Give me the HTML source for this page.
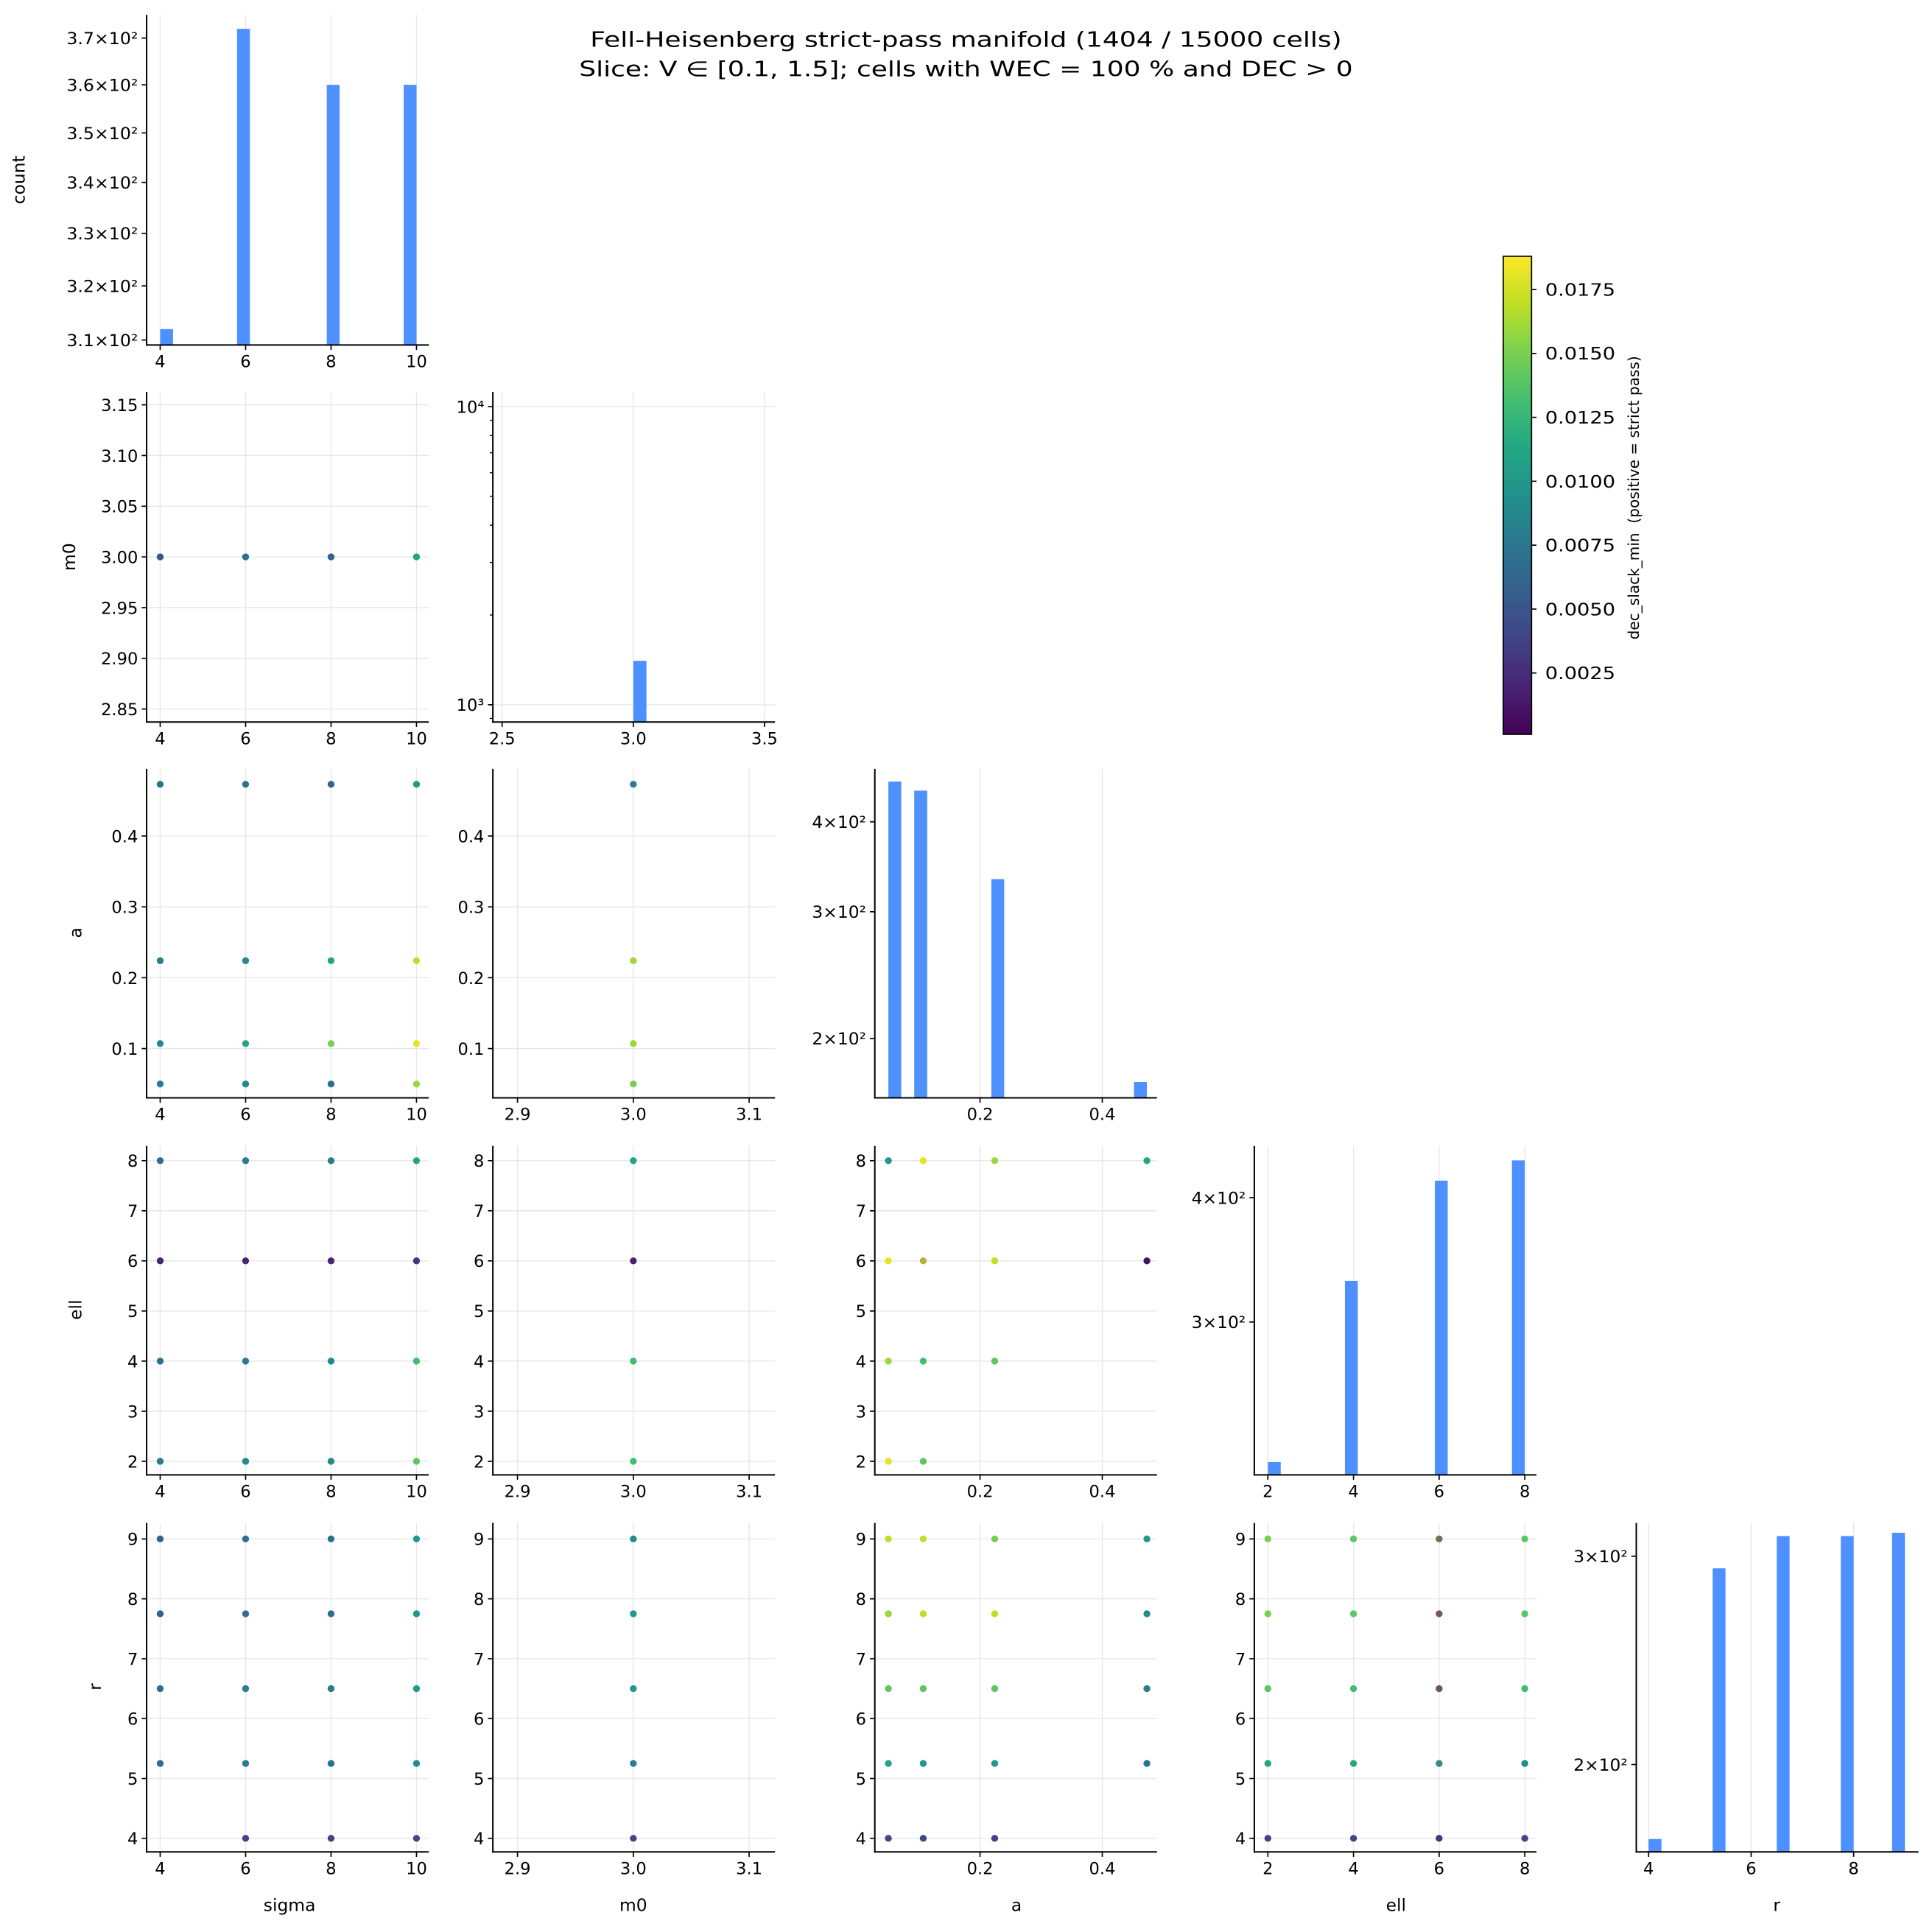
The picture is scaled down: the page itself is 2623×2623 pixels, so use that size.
<!DOCTYPE html>
<html><head><meta charset="utf-8"><style>html,body{margin:0;padding:0;background:#fff}svg{display:block}</style></head>
<body>
<svg id="s" xmlns="http://www.w3.org/2000/svg" width="2623" height="2623" viewBox="0 0 1568 1568" font-family="DejaVu Sans, Liberation Sans, sans-serif">
<rect width="1568" height="1568" fill="#fff"/>
</svg>
<script>
const S=document.getElementById('s');let H='';
const L10=Math.log10;
const VMIN=0.0001,VMAX=0.0188;
const stops=['#440154','#482475','#414487','#355f8d','#2a788e','#21918c','#22a884','#44bf70','#7ad151','#bddf26','#fde725'];
function hx(c){return [1,3,5].map(i=>parseInt(c.substr(i,2),16));}
function vir(v){let t=(v-VMIN)/(VMAX-VMIN);t=Math.max(0,Math.min(1,t))*10;let i=Math.min(9,Math.floor(t));let f=t-i;let a=hx(stops[i]),b=hx(stops[i+1]);return 'rgb('+a.map((x,k)=>Math.round(x+(b[k]-x)*f)).join(',')+')';}
const cols=[[119,348],[400,629],[710,939],[1018,1247],[1328,1557]];
const rows=[[12,280],[318,586],[624,891],[930,1197],[1236,1503]];
const FS=13.5;
const X=[v=>130+(v-4)*34.67, v=>514+(v-3)*940, v=>721+(v-0.05)*496, v=>1029+(v-2)*34.75, v=>1338+(v-4)*41.6];
const XT=[[[4,'4'],[6,'6'],[8,'8'],[10,'10']],[[2.9,'2.9'],[3.0,'3.0'],[3.1,'3.1']],[[0.2,'0.2'],[0.4,'0.4']],[[2,'2'],[4,'4'],[6,'6'],[8,'8']],[[4,'4'],[6,'6'],[8,'8']]];
const Y=[null, v=>452-(v-3)*823, v=>851-(v-0.1)*575, v=>1186-(v-2)*40.67, v=>1492-(v-4)*48.6];
const YT=[null,[[2.85,'2.85'],[2.9,'2.90'],[2.95,'2.95'],[3.0,'3.00'],[3.05,'3.05'],[3.1,'3.10'],[3.15,'3.15']],[[0.1,'0.1'],[0.2,'0.2'],[0.3,'0.3'],[0.4,'0.4']],[[2,'2'],[3,'3'],[4,'4'],[5,'5'],[6,'6'],[7,'7'],[8,'8']],[[4,'4'],[5,'5'],[6,'6'],[7,'7'],[8,'8'],[9,'9']]];
function line(x1,y1,x2,y2,c,w){H+=`<line x1="${x1}" y1="${y1}" x2="${x2}" y2="${y2}" stroke="${c}" stroke-width="${w}"/>`;}
function txt(x,y,s,anc,fs,extra){H+=`<text x="${x}" y="${y}" font-size="${fs||FS}" text-anchor="${anc||'middle'}" ${extra||''}>${s}</text>`;}
function frame(c,r,xt,xmap,yt,ymap,gridY){
 const [x0,x1]=cols[c],[y0,y1]=rows[r];
 for(const [v] of xt) line(xmap(v),y0,xmap(v),y1,'#e6e6e6',0.8);
 if(gridY) for(const [v] of yt) line(x0,ymap(v),x1,ymap(v),'#e6e6e6',0.8);
}
function axes(c,r,xt,xmap,yt,ymap,ylw){
 const [x0,x1]=cols[c],[y0,y1]=rows[r];
 line(x0,y0,x0,y1+0.6,'#000',1.2);line(x0-0.6,y1,x1,y1,'#000',1.2);
 for(const [v,s] of xt){const x=xmap(v);line(x,y1,x,y1+4,'#000',1);txt(x,y1+18,s);}
 for(const [v,s] of yt){const y=ymap(v);line(x0-4,y,x0,y,'#000',1);txt(x0-7,y+5,s,'end',FS,ylw?`textLength="${ylw}" lengthAdjust="spacingAndGlyphs"`:'');}
}
const BAR='#4d90fe';
function hist(c,r,bars,xt,xmap,yt,ymap,ylw,minor,gridY){
 const [x0,x1]=cols[c],[y0,y1]=rows[r];
 frame(c,r,xt,xmap,yt,ymap,gridY);
 for(const [a,b,n] of bars){const yy=ymap(n);H+=`<rect x="${xmap(a)}" y="${yy}" width="${xmap(b)-xmap(a)}" height="${y1-yy}" fill="${BAR}"/>`;}
 axes(c,r,xt,xmap,yt,ymap,ylw);
 if(minor) for(const v of minor){const y=ymap(v);line(x0-2.5,y,x0,y,'#000',0.8);}
}
{const ym=n=>276-(L10(n)-L10(310))*3190;
 hist(0,0,[[4,4.3,312],[5.8,6.1,372],[7.9,8.2,360],[9.7,10,360]],XT[0],X[0],
 [310,320,330,340,350,360,370].map(v=>[v,(v/100).toFixed(1)+'×10²']),ym,58);}
{const xm=v=>514+(v-3)*213;const ym=n=>572-(L10(n)-3)*242;
 hist(1,1,[[3.0,3.05,1404]],[[2.5,'2.5'],[3.0,'3.0'],[3.5,'3.5']],xm,[[1000,'10³'],[10000,'10⁴']],ym,0,[900,2000,3000,4000,5000,6000,7000,8000,9000],true);}
{const ym=n=>667-(L10(n)-L10(400))*584;
 hist(2,2,[[0.05,0.0711,455],[0.0923,0.1135,442],[0.2185,0.2396,333],[0.4519,0.473,174]],XT[2],X[2],[[200,'2×10²'],[300,'3×10²'],[400,'4×10²']],ym,44);}
{const ym=n=>972-(L10(n)-L10(400))*808;
 hist(3,3,[[2,2.3,217],[3.8,4.1,330],[5.9,6.2,416],[7.7,8.0,436]],XT[3],X[3],[[300,'3×10²'],[400,'4×10²']],ym,44);}
{const ym=n=>1263-(L10(n)-L10(300))*960;
 hist(4,4,[[4,4.25,173],[5.25,5.5,293],[6.5,6.75,312],[7.75,8.0,312],[8.75,9.0,314]],XT[4],X[4],[[200,'2×10²'],[300,'3×10²']],ym,44);}
const SIG=[4,6,8,10],A=[0.05,0.107,0.224,0.473],ELL=[2,4,6,8],R=[4,5.25,6.5,7.75,9];
function scat(c,r,pts){
 frame(c,r,XT[c],X[c],YT[r],Y[r],true);
 for(const [xv,yv,col] of pts){const fill=typeof col==='string'?col:vir(col);H+=`<circle cx="${X[c](xv)}" cy="${Y[r](yv)}" r="2.8" fill="${fill}"/>`;}
 axes(c,r,XT[c],X[c],YT[r],Y[r]);
}
scat(0,1,[[4,3,0.005],[6,3,0.007],[8,3,0.006],[10,3,0.011]]);
{const t={0.473:[0.007,0.007,0.006,0.010],0.224:[0.008,0.009,0.011,0.017],0.107:[0.009,0.011,0.015,0.018],0.05:[0.008,0.009,0.007,0.016]};
 const p=[];for(const a of A)SIG.forEach((s,i)=>p.push([s,a,t[a][i]]));scat(0,2,p);}
scat(1,2,[[3,0.473,0.008],[3,0.224,0.016],[3,0.107,0.016],[3,0.05,0.015]]);
{const t={8:[0.007,0.008,0.008,0.011],6:[0.002,0.002,0.002,0.003],4:[0.007,0.008,0.009,0.013],2:[0.008,0.009,0.009,0.014]};
 const p=[];for(const e of ELL)SIG.forEach((s,i)=>p.push([s,e,t[e][i]]));scat(0,3,p);}
scat(1,3,[[3,8,0.011],[3,6,0.002],[3,4,0.013],[3,2,0.013]]);
scat(2,3,[[0.05,8,0.010],[0.05,6,0.018],[0.05,4,0.016],[0.05,2,0.018],[0.107,8,0.018],[0.107,6,'#b5b43a'],[0.107,4,0.013],[0.107,2,0.014],[0.224,8,0.016],[0.224,6,0.017],[0.224,4,0.014],[0.473,8,0.011],[0.473,6,0.001]]);
{const t={9:[0.006,0.007,0.007,0.010],7.75:[0.006,0.007,0.007,0.010],6.5:[0.007,0.008,0.008,0.010],5.25:[0.007,0.008,0.007,0.009]};
 const p=[];for(const rr of [9,7.75,6.5,5.25])SIG.forEach((s,i)=>p.push([s,rr,t[rr][i]]));p.push([6,4,0.004],[8,4,0.004],[10,4,0.004]);scat(0,4,p);}
scat(1,4,[[3,9,0.009],[3,7.75,0.010],[3,6.5,0.010],[3,5.25,0.008],[3,4,0.004]]);
{const t={0.05:[0.004,0.011,0.014,0.016,0.017],0.107:[0.004,0.010,0.014,0.017,0.017],0.224:[0.004,0.010,0.014,0.017,0.015],0.473:[null,0.007,0.008,0.009,0.010]};
 const p=[];for(const a of A)R.forEach((rr,i)=>{if(t[a][i]!==null)p.push([a,rr,t[a][i]]);});scat(2,4,p);}
{const t={2:[0.004,0.011,0.014,0.015,0.015],4:[0.004,0.011,0.013,0.014,0.014],6:[0.003,'#3c8a86','#6a5a55','#7a5a50','#7a6a5a'],8:[0.004,0.009,0.013,0.014,0.014]};
 const p=[];for(const e of ELL)R.forEach((rr,i)=>p.push([e,rr,t[e][i]]));scat(3,4,p);}
const AL=14;
txt(20,146,'count','middle',AL,'transform="rotate(-90 20 146)"');
txt(61,452,'m0','middle',AL,'transform="rotate(-90 61 452)"');
txt(66,757,'a','middle',AL,'transform="rotate(-90 66 757)"');
txt(66,1063,'ell','middle',AL,'transform="rotate(-90 66 1063)"');
txt(82,1369,'r','middle',AL,'transform="rotate(-90 82 1369)"');
txt(235,1551,'sigma','middle',AL);txt(514,1551,'m0','middle',AL);txt(825,1551,'a','middle',AL);txt(1133,1551,'ell','middle',AL);txt(1442,1551,'r','middle',AL);
txt(784,38,'Fell-Heisenberg strict-pass manifold (1404 / 15000 cells)','middle',17,'textLength="610" lengthAdjust="spacingAndGlyphs"');
txt(784,62,'Slice: V ∈ [0.1, 1.5]; cells with WEC = 100 % and DEC &gt; 0','middle',17,'textLength="628" lengthAdjust="spacingAndGlyphs"');
{const cx0=1220,cx1=1243,cy0=208,cy1=596;
 H+='<defs><linearGradient id="g" x1="0" y1="1" x2="0" y2="0">'+stops.map((c,i)=>`<stop offset="${i/10}" stop-color="${c}"/>`).join('')+'</linearGradient></defs>';
 H+=`<rect x="${cx0}" y="${cy0}" width="${cx1-cx0}" height="${cy1-cy0}" fill="url(#g)" stroke="#000" stroke-width="1"/>`;
 const ym=v=>cy1-(v-VMIN)/(VMAX-VMIN)*(cy1-cy0);
 for(const v of [0.0025,0.005,0.0075,0.01,0.0125,0.015,0.0175]){const y=ym(v);line(cx1,y,cx1+4,y,'#000',1);txt(cx1+11,y+5,v.toFixed(4),'start',14,'textLength="57" lengthAdjust="spacingAndGlyphs"');}
 txt(1330,404,'dec_slack_min  (positive = strict pass)','middle',12,'transform="rotate(-90 1330 404)" xml:space="preserve"');
}
S.insertAdjacentHTML('beforeend',H);
</script>
</body></html>
